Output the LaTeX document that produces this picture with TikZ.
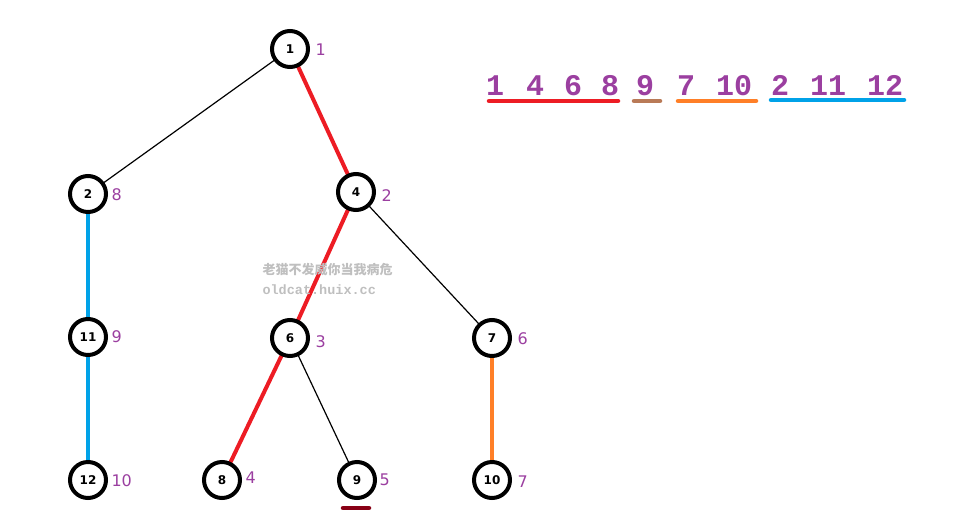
\documentclass[tikz,border=0pt]{standalone}
\usepackage{fontspec}
\usetikzlibrary{backgrounds}
\setsansfont{DejaVu Sans}
\setmonofont{Liberation Mono}
\newfontfamily\cjk{Noto Sans CJK SC}
\definecolor{pur}{HTML}{9B3FA0}
\definecolor{rd}{HTML}{ED1C24}
\definecolor{bl}{HTML}{00A2E8}
\definecolor{orr}{HTML}{FF7F27}
\definecolor{brn}{HTML}{B97A57}
\definecolor{drd}{HTML}{880015}
\begin{document}
\begin{tikzpicture}[x=1pt,y=-1pt,
  vx/.style={circle,draw=black,line width=4pt,fill=white,minimum size=36pt,inner sep=0pt,font=\sffamily\bfseries\fontsize{12}{12}\selectfont},
  lb/.style={text=pur,font=\sffamily\fontsize{16}{16}\selectfont,anchor=west},
  thin/.style={line width=1.2pt,black},
  fat/.style={line width=4pt},
  big/.style={text=pur,font=\ttfamily\bfseries\fontsize{30}{30}\selectfont,anchor=base},
  ul/.style={line width=4.5pt,line cap=round}]
\useasboundingbox (0,0) rectangle (965,530);
\node[vx] (n1) at (290,49) {1};
\node[vx] (n2) at (88,194) {2};
\node[vx] (n4) at (356,192) {4};
\node[vx] (n11) at (88,337) {11};
\node[vx] (n6) at (290,338) {6};
\node[vx] (n7) at (492,338) {7};
\node[vx] (n12) at (88,480) {12};
\node[vx] (n8) at (222,480) {8};
\node[vx] (n9) at (357,480) {9};
\node[vx] (n10) at (492,480) {10};
\begin{scope}[on background layer]
\draw[thin] (n1.center) -- (n2.center);
\draw[fat,rd] (n1.center) -- (n4.center);
\draw[fat,rd] (n4.center) -- (n6.center);
\draw[thin] (n4.center) -- (n7.center);
\draw[fat,rd] (n6.center) -- (n8.center);
\draw[thin] (n6.center) -- (n9.center);
\draw[fat,bl] (n2.center) -- (n11.center);
\draw[fat,bl] (n11.center) -- (n12.center);
\draw[fat,orr] (n7.center) -- (n10.center);
\end{scope}
\node[lb] (l1) at (312,50) {1};
\node[lb] (l2) at (108,195) {8};
\node[lb] (l4) at (378,196) {2};
\node[lb] (l11) at (108,337) {9};
\node[lb] (l6) at (312,342) {3};
\node[lb] (l7) at (514,339) {6};
\node[lb] (l12) at (108,481) {10};
\node[lb] (l8) at (242,478) {4};
\node[lb] (l9) at (376,480) {5};
\node[lb] (l10) at (514,482) {7};
\coordinate (u1) at (343,508); \coordinate (u2) at (369,508);
\draw[drd,ul] (u1) -- (u2);
\node[text=black!25,font=\cjk\bfseries\fontsize{13}{13}\selectfont,anchor=west] (w1) at (259,270) {老猫不发威你当我病危};
\node[text=black!25,font=\ttfamily\bfseries\fontsize{13.5}{13.5}\selectfont,anchor=west] (w2) at (259,290) {oldcat.huix.cc};
\foreach \t/\x in {1/495,4/535,6/573,8/610,9/645,7/686,10/734,2/780,11/828,12/885}
  \node[big] at (\x,95) {\t};
\coordinate (a1) at (489,101); \coordinate (a2) at (618,101);
\coordinate (b1) at (634,101); \coordinate (b2) at (660,101);
\coordinate (c1) at (678,101); \coordinate (c2) at (756,101);
\coordinate (d1) at (771,100); \coordinate (d2) at (904,100);
\draw[ul,rd] (a1) -- (a2);
\draw[ul,brn] (b1) -- (b2);
\draw[ul,orr] (c1) -- (c2);
\draw[ul,bl] (d1) -- (d2);
\end{tikzpicture}
\end{document}
